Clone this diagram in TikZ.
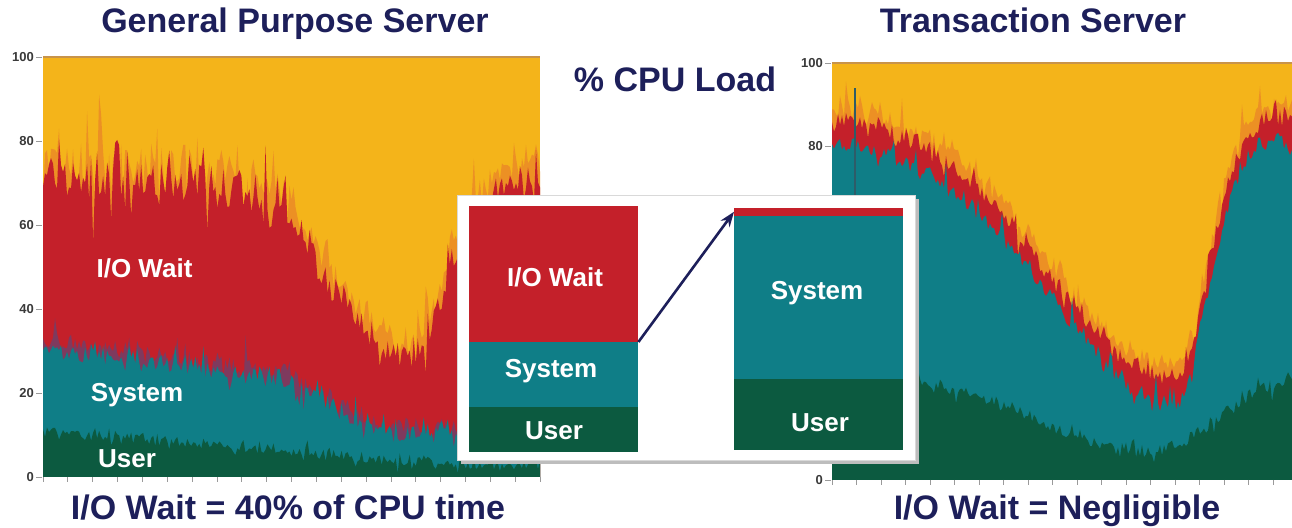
\documentclass[tikz,border=0pt]{standalone}
\usepackage{fontspec}
\setmainfont{Liberation Sans}
\usetikzlibrary{arrows.meta}

\definecolor{cyel}{HTML}{F4B41A}
\definecolor{corg}{HTML}{EC9024}
\definecolor{cred}{HTML}{C4202A}
\definecolor{cmix}{HTML}{7E3A5E}
\definecolor{cteal}{HTML}{0F7E87}
\definecolor{cgrn}{HTML}{0C5A40}
\definecolor{cnavy}{HTML}{1D1F5A}
\definecolor{ctop}{HTML}{C8944A}
\definecolor{caxis}{HTML}{9A9A9A}
\definecolor{cnum}{HTML}{3A3A3A}
\definecolor{cshadow}{HTML}{BDBDBD}
\definecolor{cspike}{HTML}{2E5C68}

\begin{document}
\begin{tikzpicture}[x=1pt,y=1pt,
  declare function={
    gs(\a)=exp(-(\a)*(\a));
    ltot(\t)=71-43*gs((\t/497-0.73)/((\t<363)*0.2+(\t>=363)*0.11));
    lamp(\t)=1+0.6*(\t<250);
    lsys(\t)=max(10.5,31-16*\t/497-60*max(0,\t/497-0.5));
    lusr(\t)=max(3,11-10*\t/497);
    rtot(\t)=88-64*gs((\t/460-0.745)/((\t<342.7)*0.38+(\t>=342.7)*0.1));
    rusr(\t)=26-19*gs((\t/460-0.69)/((\t<317.4)*0.35+(\t>=317.4)*0.2));
    jit(\s,\k)=\s*rand+\k*\s*rand*rand*rand;
    clampv(\v)=min(99.6,max(0.4,\v));
  },
  ttl/.style={font=\fontsize{34}{40}\selectfont\bfseries, text=cnavy, inner sep=0pt},
  lbl/.style={font=\fontsize{26}{30}\selectfont\bfseries, text=white, inner sep=0pt},
  ytl/.style={font=\fontsize{13}{13}\selectfont\bfseries, text=cnum, inner sep=0pt},
  tick/.style={caxis, line width=0.8pt},
  barseg/.style={draw=none, inner sep=0pt, minimum width=169pt, anchor=south west},
]
\pgfmathsetseed{4217}
\useasboundingbox (0,0) rectangle (1292,527);
\fill[white] (0,0) rectangle (1292,527);

% ---------- General purpose server: stacked CPU load ----------
\begin{scope}[shift={(43pt,50pt)}, y=4.2pt]
  \fill[cyel] (0,0) rectangle (497,100);
  \fill[corg] (0,0) -- plot[domain=0:497, samples=249] (\x,{clampv(ltot(\x)+4+lamp(\x)*jit(3,4.5))}) -- (497,0) -- cycle;
  \fill[cred] (0,0) -- plot[domain=0:497, samples=249] (\x,{clampv(ltot(\x)+lamp(\x)*jit(3,3.5))}) -- (497,0) -- cycle;
  \fill[cmix] (0,0) -- plot[domain=0:497, samples=249] (\x,{clampv(lsys(\x)+1.5+jit(2,3.5))}) -- (497,0) -- cycle;
  \fill[cteal] (0,0) -- plot[domain=0:497, samples=249] (\x,{clampv(lsys(\x)+jit(2.2,3))}) -- (497,0) -- cycle;
  \fill[cgrn] (0,0) -- plot[domain=0:497, samples=249] (\x,{clampv(lusr(\x)+jit(1.3,3))}) -- (497,0) -- cycle;
  \draw[ctop, line width=1.2pt] (0,100) -- (497,100);
  \foreach \i in {0,...,20} \draw[tick] ({\i*24.85},0) -- ({\i*24.85},-1.2);
  \foreach \v in {0,20,...,100} {
    \draw[tick] (-7,\v) -- (-1,\v);
    \node[ytl, anchor=east] at (-9,\v) {\v};
  }
\end{scope}

% ---------- Transaction server: stacked CPU load ----------
\begin{scope}[shift={(832pt,47pt)}, y=4.17pt]
  \fill[cyel] (0,0) rectangle (460,100);
  \fill[corg] (0,0) -- plot[domain=0:460, samples=231] (\x,{clampv(rtot(\x)+3+jit(2,4))}) -- (460,0) -- cycle;
  \fill[cred] (0,0) -- plot[domain=0:460, samples=231] (\x,{clampv(rtot(\x)+jit(2,3))}) -- (460,0) -- cycle;
  \fill[cteal] (0,0) -- plot[domain=0:460, samples=231] (\x,{clampv(rtot(\x)-5.5+jit(1.8,3.5))}) -- (460,0) -- cycle;
  \fill[cgrn] (0,0) -- plot[domain=0:460, samples=231] (\x,{clampv(rusr(\x)+jit(1.4,3))}) -- (460,0) -- cycle;
  \draw[cspike, line width=1.6pt] (23,60) -- (23,94);
  \draw[ctop, line width=1.2pt] (0,100) -- (460,100);
  \foreach \i in {0,...,18} \draw[tick] ({\i*24.5},0) -- ({\i*24.5},-1.2);
  \foreach \v in {0,80,100} {
    \draw[tick] (-7,\v) -- (-1,\v);
    \node[ytl, anchor=east] at (-9,\v) {\v};
  }
\end{scope}

% ---------- chart labels ----------
\node[lbl, anchor=base] (cio) at (144.5,249) {I/O Wait};
\node[lbl, anchor=base] (csys) at (137,125) {System};
\node[lbl, anchor=base] (cusr) at (127,59) {User};

% ---------- inset comparison ----------
\fill[cshadow] (461,63) rectangle (919,328);
\draw[fill=white, draw=black!15, line width=0.6pt] (457,67) rectangle (915,332);

\node[barseg, fill=cred, minimum height=136pt] (lio) at (469,185) {};
\node[barseg, fill=cteal, minimum height=65pt] (lsysbar) at (469,120) {};
\node[barseg, fill=cgrn, minimum height=45pt] (lusrbar) at (469,75) {};

\node[barseg, fill=cred, minimum height=8pt] (rio) at (734,311) {};
\node[barseg, fill=cteal, minimum height=163pt] (rsysbar) at (734,148) {};
\node[barseg, fill=cgrn, minimum height=71pt] (rusrbar) at (734,77) {};

\node[lbl, anchor=base] (tio) at (555,240) {I/O Wait};
\node[lbl, anchor=base] (tsys) at (551,149) {System};
\node[lbl, anchor=base] (tusr) at (554,87) {User};
\node[lbl, anchor=base] (tsys2) at (817,227) {System};
\node[lbl, anchor=base] (tusr2) at (820,95) {User};

\draw[cnavy, line width=2.6pt, -{Stealth[length=15pt,width=11pt]}] (lio.south east) -- (rio.west);

% ---------- titles ----------
\node[ttl, anchor=base] (t1) at (295,494) {General Purpose Server};
\node[ttl, anchor=base] (t2) at (1033,494) {Transaction Server};
\node[ttl, anchor=base] (t3) at (675,435) {\% CPU Load};
\node[ttl, anchor=base] (t4) at (288,7.5) {I/O Wait = 40\% of CPU time};
\node[ttl, anchor=base] (t5) at (1057,8) {I/O Wait = Negligible};
\end{tikzpicture}
\end{document}
